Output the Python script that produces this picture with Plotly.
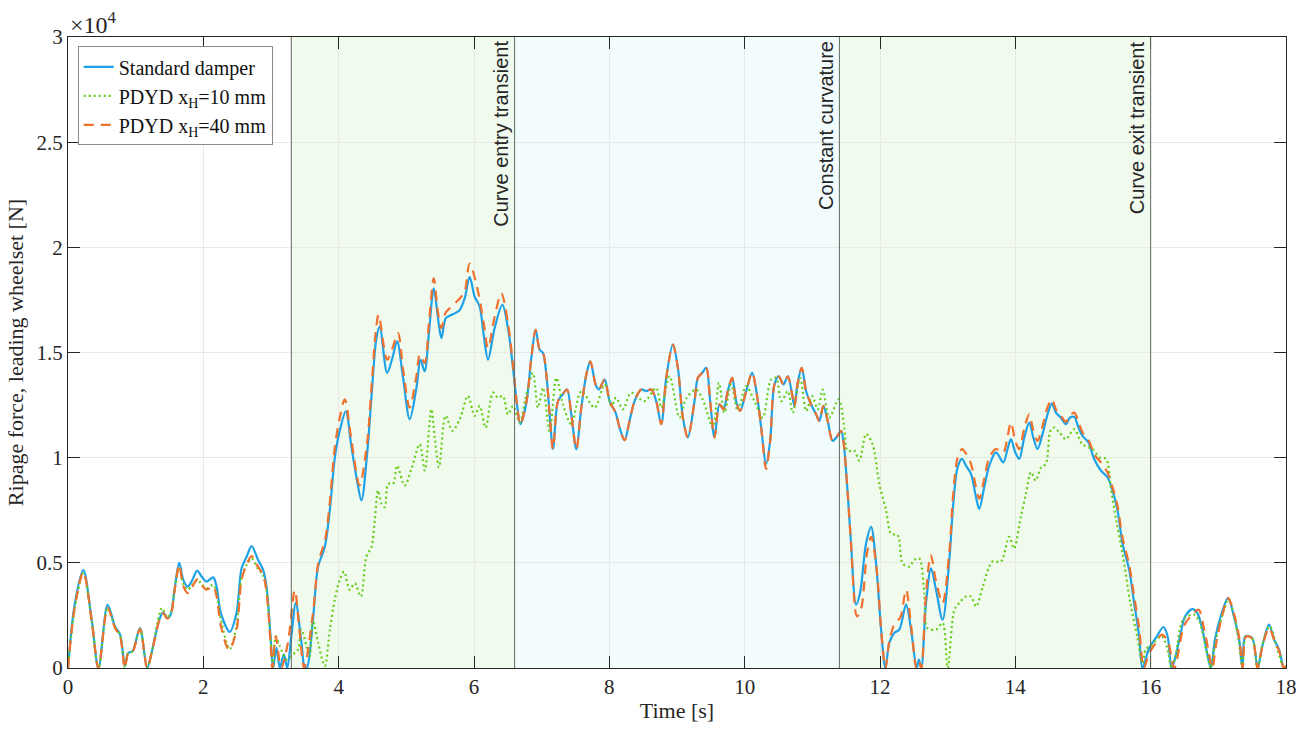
import plotly.graph_objects as go

# ---------------- data ----------------
t_std = [0, 0.10, 0.226, 0.35, 0.45, 0.586, 0.694, 0.77, 0.84, 0.89, 0.955, 1.063, 1.17, 1.235,
         1.358, 1.408, 1.467, 1.516, 1.58, 1.644, 1.703, 1.767, 1.826, 1.91, 1.974, 2.048, 2.146,
         2.196, 2.259, 2.392, 2.49, 2.565, 2.639, 2.713, 2.81, 2.884, 2.934, 2.993, 3.03, 3.082,
         3.13, 3.19, 3.24, 3.30, 3.367, 3.45, 3.50, 3.53, 3.62, 3.696, 3.795, 3.869, 3.943, 4.016,
         4.105, 4.19, 4.263, 4.337, 4.42, 4.484, 4.558, 4.607, 4.716, 4.794, 4.863, 4.952, 5.05,
         5.149, 5.21, 5.27, 5.336, 5.405, 5.468, 5.518, 5.582, 5.64, 5.715, 5.789, 5.862, 5.936,
         6.01, 6.084, 6.143, 6.207, 6.305, 6.419, 6.502, 6.576, 6.635, 6.685, 6.773, 6.847, 6.911,
         6.97, 7.02, 7.069, 7.118, 7.167, 7.241, 7.305, 7.374, 7.438, 7.512, 7.586, 7.66, 7.719,
         7.797, 7.846, 7.93, 8.004, 8.092, 8.151, 8.225, 8.299, 8.373, 8.472, 8.545, 8.619, 8.693,
         8.767, 8.841, 8.939, 9.013, 9.087, 9.16, 9.259, 9.308, 9.372, 9.431, 9.49, 9.554, 9.628,
         9.687, 9.75, 9.815, 9.874, 9.933, 10.022, 10.11, 10.18, 10.244, 10.317, 10.377, 10.44,
         10.504, 10.573, 10.637, 10.701, 10.735, 10.784, 10.843, 10.908, 10.982, 11.056, 11.104,
         11.163, 11.227, 11.3, 11.374, 11.424, 11.459, 11.523, 11.572, 11.646, 11.705, 11.794,
         11.868, 11.942, 12.016, 12.08, 12.138, 12.212, 12.286, 12.385, 12.459, 12.542, 12.575,
         12.61, 12.68, 12.754, 12.828, 12.925, 13.024, 13.083, 13.147, 13.212, 13.271, 13.345,
         13.418, 13.467, 13.541, 13.615, 13.714, 13.822, 13.885, 13.935, 13.999, 14.058, 14.132,
         14.206, 14.265, 14.328, 14.402, 14.476, 14.54, 14.6, 14.673, 14.747, 14.806, 14.87,
         14.933, 14.993, 15.081, 15.165, 15.264, 15.362, 15.436, 15.51, 15.584, 15.683, 15.756,
         15.83, 15.879, 15.98, 16.077, 16.19, 16.25, 16.31, 16.37, 16.445, 16.51, 16.617, 16.69,
         16.765, 16.824, 16.89, 16.95, 17.036, 17.144, 17.23, 17.307, 17.356, 17.4, 17.5, 17.58,
         17.65, 17.749, 17.823, 17.897, 17.97, 18.0]
v_std = [0, 3050, 4650, 2300, 0, 3000, 1980, 1590, 100, 720, 800, 1900, 0, 720,
         2380, 2640, 2380, 2530, 3870, 5000, 4190, 3870, 4110, 4630, 4350, 4110, 4310,
         3870, 2610, 1720, 2610, 4740, 5290, 5790, 5130, 4660, 3870, 1510, 0, 960,
         0, 650, 0, 1500, 3100, 1200, 0, 0, 2300, 4820, 5760, 7500, 10000, 11280,
         12200, 10490, 9070, 7970, 10170, 12850, 15680, 16230, 14030, 14740, 15530, 13790, 11820,
         13320, 14660, 14110, 16000, 18050, 16630, 15680, 16630, 16750, 16860, 17020, 17570, 18600,
         17650, 17180, 15840, 14660, 16160, 17260, 16160, 14270, 12530, 11590, 12600, 14740, 16080,
         15130, 14980, 13950, 12060, 10410, 12690, 12980, 13240, 12060, 10410, 12380, 13950, 14580,
         13480, 13240, 13710, 12690, 12140, 11430, 10830, 11750, 12690, 13240, 13160, 13240, 12690,
         11590, 13790, 15370, 14270, 11900, 10960, 12690, 13790, 14030, 14270, 12690, 10960, 12530,
         12300, 13160, 13790, 12690, 12220, 13160, 14030, 13010, 11430, 9700, 10800, 13480,
         13870, 13480, 13870, 13010, 12460, 13560, 14270, 13160, 12530, 12060, 11750,
         12460, 11750, 10800, 11040, 11280, 10800, 8280, 5920, 3010, 3560, 5920,
         6710, 4970, 1830, 0, 1200, 1670, 1830, 3010, 1830, 0, 400,
         0, 3090, 4740, 3720, 2300, 5130, 7810, 9540, 9940, 9620, 9230,
         8130, 7570, 8600, 9620, 10250, 9780, 10410, 10880, 10250, 9940, 10960,
         11670, 10960, 10410, 11120, 12060, 12570, 12140, 11900, 11590, 11900, 11940,
         11430, 11040, 10720, 9940, 9390, 9070, 8440, 7500, 5920, 4660, 3090,
         1510, 0, 960, 1430, 1950, 1510, 0, 570, 1670, 2460, 2800, 2610,
         1830, 880, 0, 1360, 2460, 3320, 2460, 1360, 0, 1510, 1430, 0,
         1040, 2060, 1360, 880, 0, 100]

t_p10 = [0, 0.10, 0.226, 0.35, 0.45, 0.586, 0.694, 0.77, 0.84, 0.89, 0.955, 1.063, 1.17, 1.235,
         1.39, 1.467, 1.516, 1.58, 1.644, 1.703, 1.767, 1.826, 1.91, 1.974, 2.048, 2.146, 2.196,
         2.259, 2.39, 2.49, 2.565, 2.639, 2.713, 2.81, 2.884, 2.934, 2.993, 3.03, 3.07, 3.13,
         3.23, 3.352, 3.40, 3.45, 3.524, 3.57, 3.62, 3.696, 3.795, 3.87, 3.943, 4.016, 4.08,
         4.164, 4.238, 4.327, 4.41, 4.484, 4.533, 4.582, 4.632, 4.68, 4.73, 4.804, 4.863, 4.976,
         5.075, 5.198, 5.272, 5.37, 5.42, 5.483, 5.58, 5.68, 5.789, 5.91, 6.01, 6.084, 6.172,
         6.28, 6.354, 6.428, 6.502, 6.576, 6.675, 6.763, 6.87, 6.945, 7.02, 7.118, 7.216, 7.315,
         7.438, 7.586, 7.782, 7.93, 8.03, 8.1, 8.2, 8.323, 8.52, 8.693, 8.767, 8.89, 9.037,
         9.135, 9.28, 9.38, 9.53, 9.62, 9.7, 9.8, 9.9, 10.02, 10.145, 10.267, 10.39, 10.465,
         10.54, 10.637, 10.71, 10.82, 10.91, 10.997, 11.08, 11.153, 11.25, 11.39, 11.473, 11.52,
         11.62, 11.695, 11.794, 11.89, 11.99, 12.09, 12.163, 12.26, 12.335, 12.434, 12.507, 12.58,
         12.655, 12.7, 12.83, 12.925, 13.0, 13.1, 13.17, 13.27, 13.345, 13.42, 13.52, 13.66,
         13.787, 13.91, 13.98, 14.08, 14.157, 14.23, 14.3, 14.38, 14.45, 14.52, 14.575, 14.65,
         14.747, 14.87, 14.99, 15.14, 15.24, 15.34, 15.41, 15.49, 15.584, 15.7, 15.8, 15.88,
         15.93, 16.0, 16.16, 16.24, 16.31, 16.37, 16.48, 16.64, 16.72, 16.82, 16.89, 16.96,
         17.11, 17.15, 17.23, 17.3, 17.356, 17.41, 17.5, 17.58, 17.65, 17.76, 17.86, 17.97, 18.0]
v_p10 = [0, 2800, 4500, 2250, 0, 2850, 1950, 1550, 0, 700, 800, 1850, 0, 700,
         2850, 2400, 2600, 3800, 4740, 4000, 3720, 3900, 4190, 4000, 3790, 3950, 3500,
         2300, 900, 2000, 4300, 4900, 5210, 4700, 4400, 3700, 1400, 0, 1500, 1040,
         410, 720, 880, 1830, 1040, 550, 2300, 1200, 100, 1830, 3250, 4190, 4580,
         3720, 4030, 3400, 5290, 5760, 7020, 8440, 7810, 7650, 8750, 8750, 9620, 8680,
         9460, 10640, 9390, 12300, 10960, 9540, 11990, 11280, 11820, 12930, 11990, 12460, 11430,
         13090, 12850, 12930, 12060, 12460, 11670, 12850, 14030, 12380, 13320, 11200, 13790, 12530,
         11590, 13160, 12380, 13480, 12460, 12850, 12300, 13090, 12690, 13320, 12380, 13870, 11900,
         12800, 13240, 12770, 11430, 13560, 12140, 13480, 12220, 13400, 12690, 11900, 13710, 13790,
         12690, 13160, 12140, 13790, 12220, 12930, 12300, 13240, 11900, 12770, 11430, 10330,
         10330, 9860, 11120, 10640, 8750, 7500, 6390, 6320, 4970, 4820, 5140, 5210,
         3560, 1900, 1830, 2140, 0, 2770, 3090, 3400, 3400, 2930, 3870, 5060,
         5060, 6240, 5680, 7180, 8280, 9310, 8910, 9540, 9700, 11280, 11430, 11200,
         10880, 11350, 10640, 10410, 10020, 9940, 8600, 7020, 5450, 3090, 1510, 250,
         900, 1040, 1510, 1000, 0, 600, 2300, 2540, 2200, 900, 0, 1300,
         3010, 3300, 2500, 1300, 0, 1510, 1400, 0, 1100, 1980, 1040, 0, 100]

t_p40 = [0, 0.10, 0.226, 0.35, 0.45, 0.586, 0.694, 0.77, 0.84, 0.89, 0.955, 1.063, 1.17, 1.235,
         1.358, 1.408, 1.467, 1.516, 1.58, 1.644, 1.703, 1.767, 1.826, 1.91, 1.974, 2.048, 2.146,
         2.196, 2.259, 2.38, 2.49, 2.565, 2.639, 2.713, 2.81, 2.884, 2.934, 2.993, 3.02, 3.07,
         3.15, 3.25, 3.352, 3.42, 3.49, 3.62, 3.70, 3.80, 3.87, 3.94, 4.016, 4.09, 4.19, 4.31,
         4.42, 4.484, 4.558, 4.59, 4.716, 4.794, 4.877, 4.952, 5.05, 5.149, 5.2, 5.27, 5.336,
         5.405, 5.468, 5.518, 5.582, 5.64, 5.789, 5.862, 5.936, 6.06, 6.143, 6.207, 6.305, 6.404,
         6.502, 6.576, 6.635, 6.685, 6.773, 6.847, 6.911, 6.97, 7.02, 7.069, 7.118, 7.167, 7.241,
         7.305, 7.374, 7.438, 7.512, 7.586, 7.66, 7.719, 7.797, 7.846, 7.93, 8.004, 8.092, 8.151,
         8.225, 8.299, 8.373, 8.472, 8.545, 8.619, 8.693, 8.767, 8.841, 8.939, 9.013, 9.087, 9.16,
         9.259, 9.308, 9.372, 9.431, 9.49, 9.554, 9.628, 9.687, 9.75, 9.815, 9.874, 9.933, 10.022,
         10.11, 10.18, 10.244, 10.317, 10.377, 10.44, 10.504, 10.573, 10.637, 10.701, 10.735,
         10.784, 10.843, 10.908, 10.982, 11.056, 11.104, 11.163, 11.227, 11.3, 11.374, 11.424,
         11.459, 11.523, 11.572, 11.66, 11.72, 11.81, 11.87, 11.95, 12.02, 12.08, 12.14, 12.22,
         12.3, 12.385, 12.46, 12.54, 12.58, 12.61, 12.68, 12.75, 12.83, 12.925, 13.024, 13.083,
         13.147, 13.212, 13.271, 13.345, 13.418, 13.467, 13.541, 13.615, 13.714, 13.822, 13.885,
         13.935, 13.999, 14.058, 14.132, 14.206, 14.265, 14.328, 14.402, 14.476, 14.54, 14.6,
         14.673, 14.747, 14.806, 14.87, 14.933, 14.993, 15.081, 15.165, 15.264, 15.362, 15.436,
         15.51, 15.584, 15.683, 15.756, 15.83, 15.9, 15.98, 16.077, 16.16, 16.25, 16.35, 16.49,
         16.6, 16.71, 16.78, 16.85, 16.91, 16.97, 17.05, 17.144, 17.23, 17.31, 17.36, 17.41,
         17.5, 17.58, 17.65, 17.749, 17.83, 17.9, 17.97, 18.0]
v_p40 = [0, 2900, 4550, 2250, 0, 2850, 1900, 1500, 0, 700, 780, 1850, 0, 700,
         2350, 2600, 2350, 2500, 3800, 4900, 3900, 3560, 3800, 4220, 3950, 3720, 3870,
         3400, 2000, 870, 1800, 4200, 4900, 5320, 4800, 4420, 3600, 1200, 0, 1500,
         0, 1200, 3700, 1800, 0, 2600, 5000, 6100, 7900, 10400, 11900, 12770, 10800, 8680,
         10700, 13300, 16300, 16790, 14660, 15200, 15920, 14200, 12380, 13900, 14900, 14500, 16500,
         18520, 16900, 16160, 16900, 17100, 17570, 17900, 19230, 17890, 16400, 15210, 16700, 17810,
         16400, 14420, 12530, 11590, 12600, 14740, 16080, 15130, 14980, 13950, 12060, 10410, 12690,
         12980, 13240, 12060, 10410, 12380, 13950, 14580, 13480, 13240, 13710, 12690, 12140, 11430,
         10830, 11750, 12690, 13240, 13160, 13240, 12690, 11590, 13790, 15370, 14270, 11900, 10960,
         12690, 13790, 14030, 14270, 12690, 10960, 12530, 12300, 13160, 13790, 12690, 12220, 13160,
         14030, 13010, 11430, 9460, 10800, 13480, 13870, 13480, 13870, 13010, 12460,
         13560, 14270, 13160, 12530, 12060, 11750, 12460, 11750, 10800, 11040, 11280,
         10800, 8280, 5920, 2450, 2800, 5500, 6240, 4700, 1700, 0, 1300, 2140,
         2400, 3720, 2000, 0, 300, 0, 3500, 5370, 4100, 3090, 5500, 8300,
         10000, 10410, 10200, 9700, 8600, 8050, 9000, 10000, 10410, 10250, 11000,
         11670, 10800, 10400, 11400, 12060, 11300, 10800, 11500, 12400, 12770, 12300,
         12000, 11700, 12000, 12140, 11700, 11200, 10850, 10150, 9780, 9300, 8600,
         7700, 6200, 4900, 3400, 1900, 0, 720, 1200, 1590, 1300, 0, 1980,
         2500, 2770, 2000, 900, 0, 1200, 2400, 3320, 2600, 1400, 0, 1500,
         1400, 0, 1000, 1900, 1300, 800, 0, 100]

phase_bounds = [3.3, 6.6, 11.4, 16.0]
phase_labels = ["Curve entry transient", "Constant curvature", "Curve exit transient"]
x_ticks = [0, 2, 4, 6, 8, 10, 12, 14, 16, 18]
y_ticks = [0, 5000, 10000, 15000, 20000, 25000, 30000]
y_ticktext = ["0", "0.5", "1", "1.5", "2", "2.5", "3"]

# ---------------- figure ----------------
SERIF = "Liberation Serif, Times New Roman, serif"
SANS = "Liberation Sans, Arial, sans-serif"
AX = "#262626"

fig = go.Figure()
fig.add_trace(go.Scatter(x=t_std, y=v_std, name="Standard damper", mode="lines",
                         line=dict(color="#1ea1e6", width=2.2, shape="spline", smoothing=0.9)))
fig.add_trace(go.Scatter(x=t_p10, y=v_p10, name="PDYD x<sub>H</sub>=10 mm", mode="lines",
                         line=dict(color="#66cc1a", width=2.2, dash="2px,3px", shape="spline", smoothing=0.9)))
fig.add_trace(go.Scatter(x=t_p40, y=v_p40, name="PDYD x<sub>H</sub>=40 mm", mode="lines",
                         line=dict(color="#f0702e", width=2.2, dash="10px,7px", shape="spline", smoothing=0.9)))

fills = ["#f0fbee", "#f2fcfd", "#f0fbee"]
for i in range(3):
    fig.add_shape(type="rect", xref="x", yref="y", x0=phase_bounds[i], x1=phase_bounds[i + 1],
                  y0=0, y1=30000, fillcolor=fills[i], line=dict(width=0), layer="below")
for b in phase_bounds:
    fig.add_shape(type="line", xref="x", yref="y", x0=b, x1=b, y0=0, y1=30000,
                  line=dict(color="#5f6b5f", width=1), layer="above")
for i, lab in enumerate(phase_labels):
    fig.add_annotation(x=phase_bounds[i + 1], y=29900, xref="x", yref="y", text=lab,
                       textangle=-90, showarrow=False, xanchor="right", yanchor="top",
                       xshift=-1, font=dict(family=SANS, size=20, color="#262626"))

fig.add_annotation(x=0, y=1.0, xref="paper", yref="paper", text="×10<sup>4</sup>",
                   showarrow=False, xanchor="left", yanchor="bottom", yshift=-3,
                   font=dict(family=SERIF, size=24, color=AX))

fig.update_layout(
    width=1309, height=731,
    margin=dict(l=68, r=22, t=37, b=59),
    paper_bgcolor="white", plot_bgcolor="white",
    font=dict(family=SERIF, size=20, color=AX),
    showlegend=True,
    legend=dict(x=0.008, y=0.985, xanchor="left", yanchor="top",
                bgcolor="white", bordercolor="#8a8a8a", borderwidth=1,
                font=dict(family=SERIF, size=20, color="#111111"),
                tracegroupgap=0, itemwidth=30),
)
fig.update_xaxes(range=[0, 18], tickvals=x_ticks, ticks="inside", ticklen=12, tickcolor=AX,
                 showline=True, linecolor=AX, linewidth=1, mirror="allticks",
                 showgrid=True, gridcolor="#e8e8e8", gridwidth=1, zeroline=False,
                 title=dict(text="Time [s]", font=dict(family=SERIF, size=22), standoff=4),
                 tickfont=dict(family=SERIF, size=21))
fig.update_yaxes(range=[0, 30000], tickvals=y_ticks, ticktext=y_ticktext, ticks="inside",
                 ticklen=12, tickcolor=AX, showline=True, linecolor=AX, linewidth=1,
                 mirror="allticks", showgrid=True, gridcolor="#e8e8e8", gridwidth=1,
                 zeroline=False,
                 title=dict(text="Ripage force, leading wheelset [N]",
                            font=dict(family=SERIF, size=22), standoff=6),
                 tickfont=dict(family=SERIF, size=21))

# remove the default page margin so the figure starts at the window's top-left corner
page_fix = ("document.body.style.margin='0';document.body.style.padding='0';"
            "document.body.style.overflow='hidden';"
            "document.documentElement.style.overflow='hidden';")
fig.write_html("out.html", post_script=page_fix, config={"displayModeBar": False})
